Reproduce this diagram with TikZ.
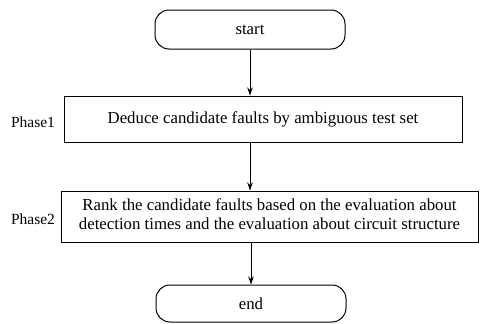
\documentclass[tikz,border=0pt]{standalone}
\usepackage{fontspec}
\setmainfont{Liberation Serif}
\usetikzlibrary{arrows.meta}
\begin{document}
\begin{tikzpicture}[x=1pt,y=-1pt,
  font=\fontsize{16.8}{18.5}\selectfont,
  term/.style={draw, line width=1pt, rounded corners=14pt, inner sep=0pt,
    minimum width=190pt},
  procbox/.style={draw, line width=1pt, inner sep=0pt},
  phase/.style={inner sep=0pt, font=\fontsize{15.5}{18}\selectfont},
  link/.style={-{Stealth[length=8pt,width=5.5pt]}, line width=1pt}]
\useasboundingbox (0,0) rectangle (480,324);
% terminals
\node[term, minimum height=39pt] (start) at (250,29.5) {start};
\node[term, minimum height=37pt] (end) at (251,303.5) {end};
% processing steps
\node[procbox, minimum width=398pt, minimum height=46pt] (deduce) at (263,119)
  {\raisebox{-1pt}{Deduce candidate faults by ambiguous test set}};
\node[procbox, minimum width=417pt, minimum height=51pt] (rank) at (269.5,216.5)
  {\raisebox{-3pt}{\begin{tabular}{@{}c@{}}
     Rank the candidate faults based on the evaluation about\\
     detection times and the evaluation about circuit structure
   \end{tabular}}};
% phase labels
\node[phase] (p1) at (33,122) {Phase1};
\node[phase] (p2) at (33,219) {Phase2};
% connectors
\draw[link] (start.south) -- (deduce.north -| start.south);
\draw[link] (deduce.south -| start.south) -- (rank.north -| start.south);
\draw[link] (rank.south -| end.north) -- (end.north);
\end{tikzpicture}
\end{document}
